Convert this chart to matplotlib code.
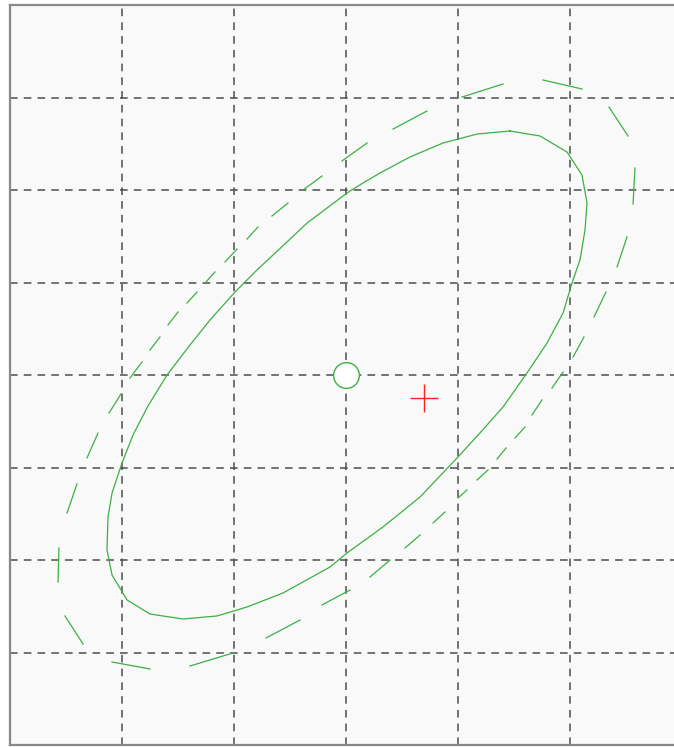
import numpy as np
import matplotlib
matplotlib.use("Agg")
import matplotlib.pyplot as plt

# ---- data (in grid units) ----
# solid ellipse outline (polygon vertices)
solid_x = [1.464, 1.732, 1.973, 2.107, 2.152, 2.134, 2.089, 2.018, 1.938, 1.795, 1.616,
           1.402, 1.196, 1.000, 0.661, 0.330, 0.009, -0.143, -0.563, -0.884, -1.152,
           -1.455, -1.750, -1.955, -2.089, -2.134, -2.125, -2.089, -2.000, -1.902, -1.768,
           -1.598, -1.393, -1.214, -0.991, -0.795, -0.527, -0.348, -0.170, 0.009, 0.152,
           0.304, 0.571, 0.866, 1.170, 1.464]
solid_y = [2.638, 2.584, 2.411, 2.162, 1.859, 1.568, 1.243, 0.995, 0.670, 0.346, 0.022,
           -0.346, -0.627, -0.886, -1.319, -1.643, -1.924, -2.076, -2.357, -2.508, -2.605,
           -2.638, -2.584, -2.432, -2.162, -1.892, -1.535, -1.276, -0.951, -0.649, -0.335,
           0.000, 0.324, 0.595, 0.897, 1.135, 1.438, 1.643, 1.805, 1.968, 2.076,
           2.184, 2.357, 2.508, 2.605, 2.638]

# dashed ellipse: each dash as start / end point
dash_x0 = [1.036, 1.759, 2.348, 2.580, 2.509, 2.321, 2.125, 1.938, 1.750, 1.598,
           1.429, 1.268, 1.080, 0.884, 0.661, 0.393, 0.036, -0.411,
           -1.009, -1.750, -2.348, -2.571, -2.491, -2.313, -2.116, -1.929, -1.750, -1.589,
           -1.420, -1.250, -1.080, -0.884, -0.661, -0.384, -0.036, 0.420]
dash_y0 = [3.005, 3.189, 2.897, 2.238, 1.492, 0.897, 0.411, 0.032, -0.270, -0.562,
           -0.789, -1.027, -1.243, -1.481, -1.730, -2.000, -2.324, -2.649,
           -3.005, -3.178, -2.908, -2.238, -1.492, -0.897, -0.411, -0.032, 0.270, 0.541,
           0.778, 1.005, 1.222, 1.470, 1.719, 2.000, 2.314, 2.659]
dash_x1 = [1.402, 2.107, 2.518, 2.563, 2.420, 2.214, 2.027, 1.839, 1.661, 1.509,
           1.348, 1.170, 1.000, 0.777, 0.527, 0.214, -0.214, -0.714,
           -1.393, -2.089, -2.509, -2.563, -2.402, -2.214, -2.009, -1.821, -1.661, -1.500,
           -1.330, -1.170, -0.973, -0.786, -0.518, -0.214, 0.188, 0.723]
dash_y1 = [3.146, 3.092, 2.584, 1.849, 1.168, 0.627, 0.195, -0.141, -0.432, -0.681,
           -0.908, -1.135, -1.330, -1.600, -1.870, -2.184, -2.486, -2.843,
           -3.146, -3.103, -2.605, -1.870, -1.178, -0.627, -0.205, 0.141, 0.411, 0.681,
           0.897, 1.114, 1.362, 1.600, 1.859, 2.151, 2.508, 2.854]

center_pt = (0.0, 0.0)      # open circle
cross_pt = (0.696, -0.249)  # red plus

x_grid = [-2, -1, 0, 1, 2]
y_grid = [-3, -2, -1, 0, 1, 2, 3]
x_lim = (-3, 3)
y_lim = (-4, 4)

# ---- figure ----
W, H = 674, 747
fig = plt.figure(figsize=(W / 100, H / 100), dpi=100, facecolor="white")
ax = fig.add_axes([10 / W, 2 / H, 672 / W, 740 / H])
ax.set_facecolor("#f9f9f9")
ax.set_xlim(*x_lim)
ax.set_ylim(*y_lim)
ax.set_xticks(x_grid)
ax.set_yticks(y_grid)
ax.tick_params(length=0, labelbottom=False, labelleft=False)
ax.grid(True, color="#4d4d4d", linestyle=(0, (5, 4)), linewidth=1.1)
ax.set_axisbelow(True)
for s in ax.spines.values():
    s.set_color("#888888")
    s.set_linewidth(1.6)

green = "#3cb043"
ax.plot(solid_x, solid_y, color=green, linewidth=0.9, zorder=3)

dx, dy = [], []
for a, b, c, d in zip(dash_x0, dash_y0, dash_x1, dash_y1):
    dx += [a, c, np.nan]
    dy += [b, d, np.nan]
ax.plot(dx, dy, color=green, linewidth=0.9, zorder=3)

ax.plot([center_pt[0]], [center_pt[1]], marker="o", markersize=18.5,
        markerfacecolor="white", markeredgecolor=green, markeredgewidth=1.0,
        linestyle="none", zorder=4)
ax.plot([cross_pt[0]], [cross_pt[1]], marker="+", markersize=20,
        color="#ff2020", markeredgewidth=1.0, linestyle="none", zorder=4)

fig.savefig("out.png", dpi=100, facecolor="white")
